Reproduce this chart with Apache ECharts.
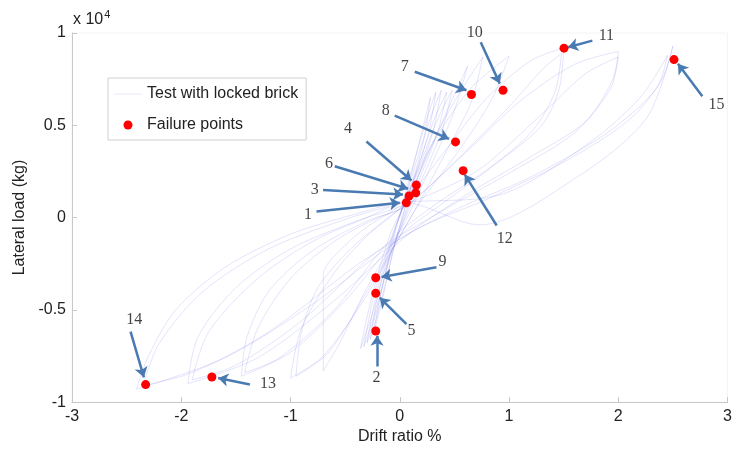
<!DOCTYPE html>
<html><head><meta charset="utf-8">
<script src="https://cdn.jsdelivr.net/npm/echarts@6/dist/echarts.min.js"></script>
<style>html,body{margin:0;padding:0;background:#fff}#c{width:735px;height:450px}</style>
</head><body><div id="c"></div>
<script>
// Axis ticks (drift %, load in kg)
const xTicks = [-3, -2, -1, 0, 1, 2, 3];
const yTicks = [-10000, -5000, 0, 5000, 10000];

// Test trace (drift %, lateral load kg)
const testTrace = [
 [0,0],[0.1,2200],[0.2,4600],[0.28,6500],[0.22,4200],[0.08,1200],[-0.05,-1500],[-0.15,-4200],[-0.24,-6300],[-0.18,-4300],[-0.06,-1200],[0.02,600],
 [0.12,2800],[0.24,5200],[0.33,6800],[0.26,4500],[0.1,1500],[-0.05,-1600],[-0.17,-4500],[-0.27,-6600],[-0.2,-4200],[-0.05,-800],[0.04,800],
 [0.15,3000],[0.28,5400],[0.38,6900],[0.3,4600],[0.12,1400],[-0.08,-1900],[-0.2,-4800],[-0.3,-6800],[-0.22,-4300],[-0.06,-900],[0.05,900],
 [0.18,3000],[0.32,5400],[0.43,6800],[0.34,4500],[0.14,1500],[-0.08,-2000],[-0.22,-5000],[-0.33,-7000],[-0.24,-4300],[-0.06,-800],[0.06,1000],
 [0.2,3100],[0.36,5500],[0.48,6900],[0.38,4600],[0.16,1500],[-0.1,-2200],[-0.25,-5200],[-0.36,-7100],[-0.26,-4400],[-0.08,-800],[0.08,1100],
 [0.25,3300],[0.45,6000],[0.62,8200],[0.5,5800],[0.3,3000],[0.05,-200],[-0.3,-3800],[-0.55,-6800],[-0.7,-8300],[-0.7,-6000],[-0.7,-3100],[-0.5,-1500],[-0.25,-300],[0,700],
 [0.25,3500],[0.5,6300],[0.76,8700],[0.65,6200],[0.4,3300],[0.1,0],[-0.3,-4000],[-0.65,-7300],[-0.95,-8600],[-0.9,-6200],[-0.75,-3800],[-0.45,-1700],[-0.15,-200],[0.05,800],
 [0.3,4000],[0.65,7000],[1.0,8750],[0.85,6500],[0.55,3700],[0.15,500],[-0.3,-4200],[-0.7,-7500],[-1.0,-8700],[-0.9,-6000],[-0.6,-3000],[-0.3,-1000],[0,500],
 [0.4,3500],[0.8,6500],[1.2,8500],[1.5,9200],[1.46,7000],[1.3,5000],[0.9,3000],[0.4,800],[0,-1000],[-0.5,-4500],[-1.0,-7300],[-1.45,-8600],[-1.4,-6500],[-1.2,-4000],[-0.8,-1800],[-0.3,-200],[0.05,600],
 [0.5,3000],[1.0,6000],[1.3,8000],[1.48,8900],[1.42,6800],[1.2,4600],[0.8,2600],[0.3,600],[-0.1,-1300],[-0.6,-5000],[-1.1,-7600],[-1.42,-8400],[-1.3,-6000],[-1.0,-3300],[-0.6,-1300],[-0.2,0],[0.05,600],
 [0.6,3500],[1.1,6300],[1.6,8300],[2.0,9000],[1.95,7500],[1.7,5200],[1.2,3300],[0.6,1200],[0.1,-800],[-0.6,-4500],[-1.3,-7600],[-1.94,-9000],[-1.85,-6500],[-1.5,-3800],[-1.0,-1700],[-0.4,-200],[0.05,700],
 [0.7,2500],[1.3,5600],[1.7,7800],[2.0,8700],[1.93,7000],[1.6,4600],[1.0,2400],[0.4,400],[-0.2,-1800],[-0.9,-5600],[-1.5,-8000],[-1.9,-8800],[-1.75,-6200],[-1.3,-3300],[-0.8,-1300],[-0.3,0],[0.05,800],
 [0.73,-400],[1.65,2300],[2.26,5400],[2.5,9300],[2.4,7500],[2.1,5300],[1.5,3000],[0.8,1000],[0.1,-800],[-0.8,-4700],[-1.6,-7600],[-2.41,-9300],[-2.3,-7500],[-2.05,-5000],[-1.6,-2700],[-1.0,-900],[-0.4,200],[0,800],
 [0.9,1200],[1.7,3900],[2.2,6500],[2.45,8800],[2.35,7000],[1.9,4600],[1.2,2200],[0.5,400],[-0.3,-2200],[-1.2,-6200],[-1.9,-8400],[-2.35,-9100],[-2.2,-6800],[-1.8,-4000],[-1.2,-1700],[-0.5,-100],[-0.1,600]
];

// Failure points (drift %, load kg)
const failureLabels = ['1','2','3','4','5','6','7','8','9','10','11','12','13','14','15'];
const failureX = [0.06,-0.22,0.085,0.152,-0.22,0.146,0.656,0.51,-0.22,0.945,1.503,0.58,-1.72,-2.326,2.51];
const failureY = [800,-6150,1170,1760,-4100,1340,6670,4100,-3260,6900,9180,2540,-8640,-9050,8560];

// Annotation label positions and arrow tails/heads (drift %, load kg)
const labelX = [-0.839,-0.213,-0.778,-0.473,0.107,-0.647,0.046,-0.128,0.391,0.686,1.891,0.961,-1.205,-2.431,2.898];
const labelY = [145,-8694,1522,4801,-6129,2903,8172,5790,-2419,10038,9823,-1129,-8995,-5522,6129];
const tailX = [-0.762,-0.208,-0.702,-0.305,0.061,-0.595,0.137,-0.046,0.336,0.741,1.763,0.887,-1.372,-2.464,2.769];
const tailY = [323,-8065,1489,4124,-5769,2780,7903,5522,-2688,9500,9586,-430,-9048,-6183,6575];
const headX = [0.0,-0.208,0.030,0.107,-0.183,0.076,0.610,0.451,-0.167,0.915,1.540,0.595,-1.662,-2.342,2.546];
const headY = [806,-6398,1253,2005,-4339,1559,6898,4263,-3226,7258,9231,2328,-8694,-8656,8333];

const chart = echarts.init(document.getElementById('c'), null, {renderer:'canvas'});
const sans = 'Liberation Sans, Arial, sans-serif';
const serif = 'Liberation Serif, Times New Roman, serif';

const failureData = failureX.map((x,i)=>({name:failureLabels[i], value:[x, failureY[i]]}));
const labelData = labelX.map((x,i)=>({name:failureLabels[i], value:[x, labelY[i]]}));
const arrowData = tailX.map((x,i)=>({coords:[[x, tailY[i]],[headX[i], headY[i]]]}));

chart.setOption({
  animation:false,
  backgroundColor:'#fff',
  grid:{left:72, right:7, top:33, bottom:45, show:true, borderColor:'#f4f4f4', borderWidth:1},
  xAxis:{type:'value', min:xTicks[0], max:xTicks[xTicks.length-1], interval:1,
    name:'Drift ratio %', nameLocation:'middle', nameGap:24,
    nameTextStyle:{fontFamily:sans, fontSize:16, color:'#222'},
    axisLine:{onZero:false, lineStyle:{color:'#c8c8c8', width:1}},
    axisTick:{inside:true, length:5, lineStyle:{color:'#c8c8c8'}},
    axisLabel:{fontFamily:sans, fontSize:16, color:'#222', margin:6},
    splitLine:{show:false}},
  yAxis:{type:'value', min:yTicks[0], max:yTicks[yTicks.length-1], interval:5000,
    name:'Lateral load (kg)', nameLocation:'middle', nameGap:40,
    nameTextStyle:{fontFamily:sans, fontSize:16, color:'#222'},
    axisLine:{onZero:false, lineStyle:{color:'#c8c8c8', width:1}},
    axisTick:{inside:true, length:5, lineStyle:{color:'#c8c8c8'}},
    axisLabel:{fontFamily:sans, fontSize:16, color:'#222', margin:6, formatter:v=>String(v/10000)},
    splitLine:{show:false}},
  legend:{left:108, top:78, orient:'vertical', padding:[8,8,7,6], itemGap:15,
    itemWidth:28, itemHeight:9, borderColor:'#d0d0d0', borderWidth:1, backgroundColor:'#fff',
    textStyle:{fontFamily:sans, fontSize:16, color:'#222'},
    data:[{name:'Test with locked brick', icon:'path://M0,4 L28,4 L28,5 L0,5 Z', itemStyle:{color:'#e6e6f4'}},
          {name:'Failure points', icon:'circle', itemStyle:{color:'#ff0000', opacity:1}}]},
  graphic:[{type:'text', left:73, top:9, style:{
    text:'{a|x 10}{b|4}', rich:{a:{fontFamily:sans, fontSize:16, fill:'#222'}, b:{fontFamily:sans, fontSize:11, fill:'#222', verticalAlign:'top', padding:[0,0,10,1]}}}}],
  series:[
    {name:'Test with locked brick', type:'line', data:testTrace, smooth:0.3, showSymbol:false, symbol:'none',
     lineStyle:{color:'#5a5ae6', width:0.5, opacity:0.32}, itemStyle:{color:'#c8c8ee'}, z:1},
    {name:'arrows', type:'lines', coordinateSystem:'cartesian2d', data:arrowData,
     symbol:['none','arrow'], symbolSize:[0,10],
     lineStyle:{color:'#4a7ab2', width:2.5, opacity:1}, z:3},
    {name:'Failure points', type:'scatter', data:failureData, symbolSize:9,
     itemStyle:{color:'#ff0000', opacity:1}, z:4},
    {name:'labels', type:'scatter', data:labelData, symbolSize:1, clip:false,
     itemStyle:{color:'rgba(0,0,0,0)'},
     label:{show:true, position:'inside', formatter:p=>p.name, fontFamily:serif, fontSize:16, color:'#111', textBorderWidth:0}, z:5}
  ]
});
</script></body></html>
